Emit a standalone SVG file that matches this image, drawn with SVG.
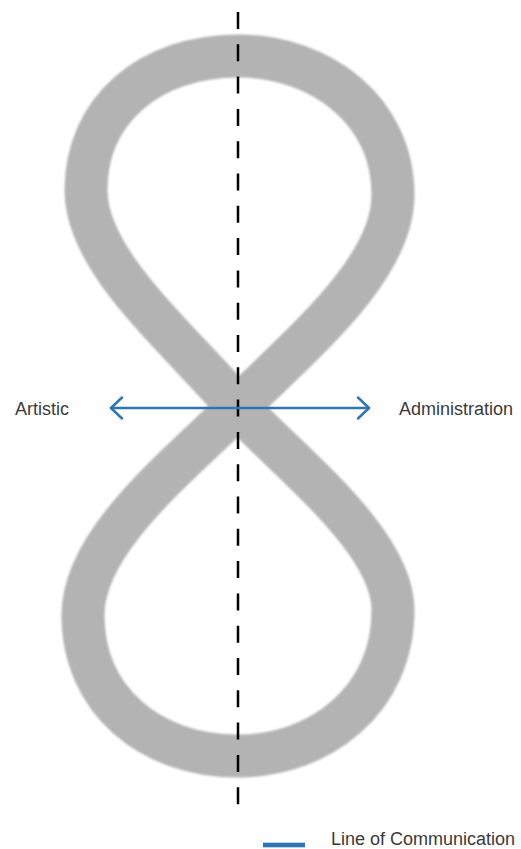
<svg xmlns="http://www.w3.org/2000/svg" width="521" height="849" viewBox="0 0 521 849">
  <style>
    .band { fill: none; stroke: #b3b3b3; stroke-width: 43; stroke-linejoin: round; }
    .axis { stroke: #000; stroke-width: 2.5; stroke-dasharray: 17 15.3; }
    .comm { fill: none; stroke: #2f74b5; stroke-width: 2.5; stroke-linecap: round; stroke-linejoin: round; }
    .label { font-family: "Liberation Sans", Arial, sans-serif; font-size: 18px; fill: #3a3a3a; }
  </style>
  <defs>
    <filter id="soft" x="-10%" y="-10%" width="120%" height="120%">
      <feGaussianBlur stdDeviation="1.2"/>
    </filter>
  </defs>

  <rect width="521" height="849" fill="#fff"/>

  <!-- figure-eight band -->
  <g id="figure-eight" filter="url(#soft)">
    <path class="band" d="M 238 407
      C 288 462 393 540 393 610
      C 393 700 320 756 238 756
      C 150 756 83 700 83 615
      C 83 540 180 465 238 407
      C 300 345 393 270 393 195
      C 393 110 320 56 238 56
      C 150 56 86 110 86 190
      C 86 260 170 330 238 407 Z"/>
  </g>

  <!-- vertical dashed axis -->
  <g id="axis">
    <line class="axis" x1="238" y1="12" x2="238" y2="819"/>
  </g>

  <!-- two-way line of communication -->
  <g id="connectors">
    <line class="comm" x1="111" y1="408" x2="369" y2="408"/>
    <polyline class="comm" points="122,397.5 111,408 122,418.5"/>
    <polyline class="comm" points="358,397.5 369,408 358,418.5"/>
  </g>

  <g id="node-artistic">
    <text class="label" x="15" y="415">Artistic</text>
  </g>
  <g id="node-administration">
    <text class="label" x="399" y="415">Administration</text>
  </g>

  <!-- legend -->
  <g id="legend">
    <rect x="263" y="842.7" width="42" height="4.6" fill="#2f74b5"/>
    <text class="label" x="331" y="845">Line of Communication</text>
  </g>
</svg>
